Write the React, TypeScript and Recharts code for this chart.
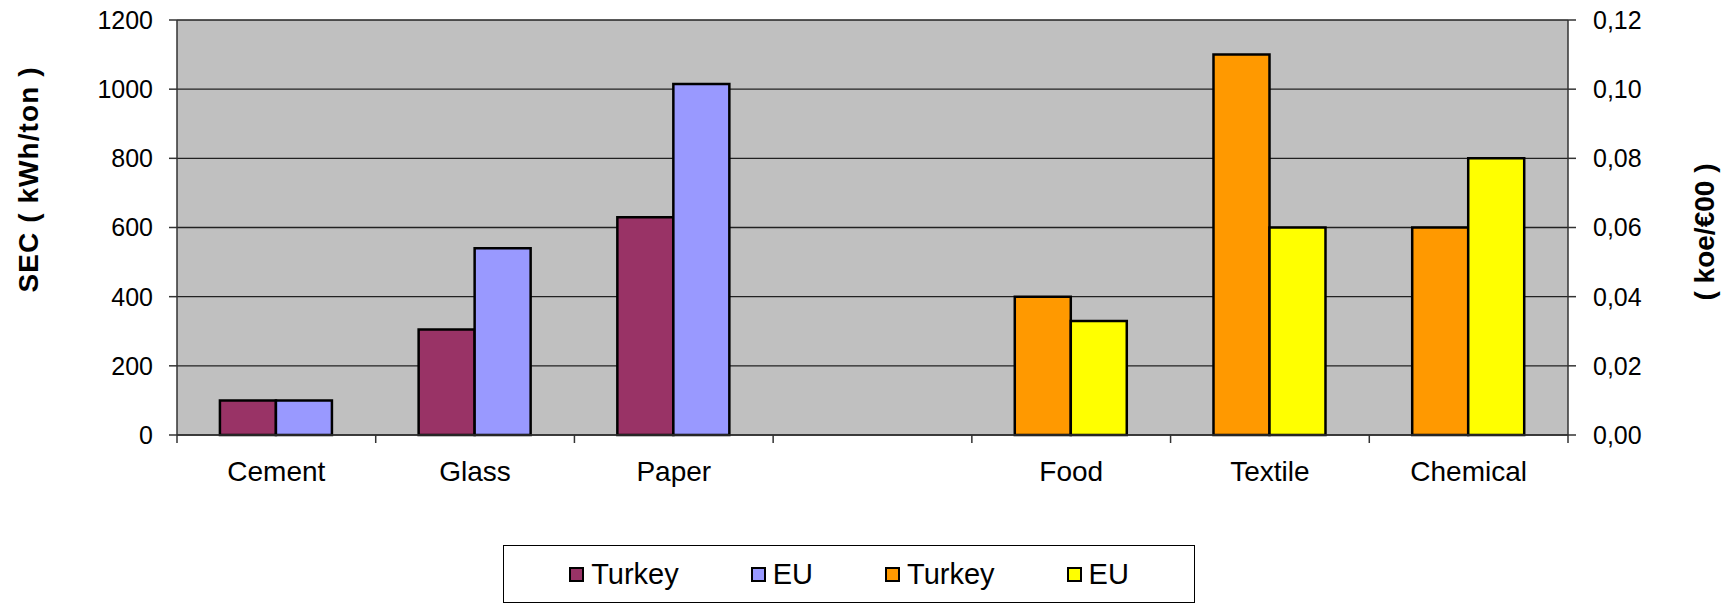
import { ComposedChart, Bar, XAxis, YAxis, CartesianGrid } from "recharts";

const categories = ["Cement", "Glass", "Paper", "", "Food", "Textile", "Chemical"];
// SEC, kWh/ton (left axis)
const secTurkey = [100, 305, 630, null, null, null, null];
const secEU = [100, 540, 1015, null, null, null, null];
// energy intensity, koe/€00 (right axis)
const intTurkey = [null, null, null, null, 0.04, 0.11, 0.06];
const intEU = [null, null, null, null, 0.033, 0.06, 0.08];

const secTicks = [0, 200, 400, 600, 800, 1000, 1200];
const intTicks = [0, 0.02, 0.04, 0.06, 0.08, 0.1, 0.12];

const legendItems = [
  { label: "Turkey", color: "#993366" },
  { label: "EU", color: "#9999ff" },
  { label: "Turkey", color: "#ff9900" },
  { label: "EU", color: "#ffff00" },
];

const data = categories.map((name, i) => ({
  name,
  secTurkey: secTurkey[i],
  secEU: secEU[i],
  intTurkey: intTurkey[i],
  intEU: intEU[i],
}));

const W = 1731;
const H = 604;
const LEFT_W = 177;
const RIGHT_W = 163;
const FONT = "'Liberation Sans', Arial, sans-serif";
const BAND = (W - LEFT_W - RIGHT_W) / categories.length;

function CategoryTick(props: any) {
  const { x, y, payload, index } = props;
  const last = index === categories.length - 1;
  return (
    <g>
      <line x1={x - BAND / 2} x2={x - BAND / 2} y1={y} y2={y + 8} stroke="#333" strokeWidth={1.5} />
      {last && <line x1={x + BAND / 2} x2={x + BAND / 2} y1={y} y2={y + 8} stroke="#333" strokeWidth={1.5} />}
      <text x={x} y={y + 46} textAnchor="middle" fontSize={28} fontFamily={FONT} fill="#000">
        {payload.value}
      </text>
    </g>
  );
}

export default function App() {
  return (
    <div style={{ position: "absolute", left: 0, top: 0, width: W, height: H, background: "#fff" }}>
      <ComposedChart
        width={W}
        height={H}
        data={data}
        margin={{ top: 20, right: 0, bottom: 0, left: 0 }}
        barCategoryGap="21.6%"
        barGap={0}
      >
        <CartesianGrid
          yAxisId="left"
          xAxisId="main"
          vertical={false}
          fill="#c0c0c0"
          fillOpacity={1}
          stroke="#222"
          strokeWidth={1.3}
        />
        <XAxis
          xAxisId="main"
          dataKey="name"
          height={169}
          interval={0}
          tickSize={0}
          tickMargin={0}
          tickLine={false}
          axisLine={{ stroke: "#333", strokeWidth: 1.5 }}
          tick={<CategoryTick />}
        />
        {/* second category axis so the right-axis pair sits centred in its slot */}
        <XAxis xAxisId="alt" dataKey="name" orientation="top" height={0} hide />
        <YAxis
          yAxisId="left"
          width={LEFT_W}
          domain={[0, 1200]}
          ticks={secTicks}
          interval={0}
          tickSize={8}
          tickMargin={16}
          axisLine={{ stroke: "#333", strokeWidth: 1.5 }}
          tickLine={{ stroke: "#333", strokeWidth: 1.5 }}
          tick={{ fill: "#000", fontSize: 25, fontFamily: FONT }}
        />
        <YAxis
          yAxisId="right"
          orientation="right"
          width={RIGHT_W}
          domain={[0, 0.12]}
          ticks={intTicks}
          interval={0}
          tickSize={8}
          tickMargin={17}
          axisLine={{ stroke: "#333", strokeWidth: 1.5 }}
          tickLine={{ stroke: "#333", strokeWidth: 1.5 }}
          tick={{ fill: "#000", fontSize: 25, fontFamily: FONT, textAnchor: "start" }}
          tickFormatter={(v: number) => v.toFixed(2).replace(".", ",")}
        />
        <Bar xAxisId="main" yAxisId="left" dataKey="secTurkey" name="Turkey" fill="#993366" stroke="#000" strokeWidth={2.5} isAnimationActive={false} />
        <Bar xAxisId="main" yAxisId="left" dataKey="secEU" name="EU" fill="#9999ff" stroke="#000" strokeWidth={2.5} isAnimationActive={false} />
        <Bar xAxisId="alt" yAxisId="right" dataKey="intTurkey" name="Turkey" fill="#ff9900" stroke="#000" strokeWidth={2.5} isAnimationActive={false} />
        <Bar xAxisId="alt" yAxisId="right" dataKey="intEU" name="EU" fill="#ffff00" stroke="#000" strokeWidth={2.5} isAnimationActive={false} />
        <text
          x={28}
          y={180}
          transform="rotate(-90 28 180)"
          textAnchor="middle"
          dominantBaseline="central"
          fontSize={28}
          fontWeight="bold"
          fontFamily={FONT}
          fill="#000"
          textLength={225}
          lengthAdjust="spacing"
        >
          SEC ( kWh/ton )
        </text>
        <text
          x={1704}
          y={232}
          transform="rotate(-90 1704 232)"
          textAnchor="middle"
          dominantBaseline="central"
          fontSize={28}
          fontWeight="bold"
          fontFamily={FONT}
          fill="#000"
        >
          ( koe/€00 )
        </text>
      </ComposedChart>

      {/* legend box */}
      <div
        style={{
          position: "absolute",
          left: 503,
          top: 545,
          width: 692,
          height: 58,
          boxSizing: "border-box",
          border: "1px solid #000",
          display: "flex",
          alignItems: "center",
          justifyContent: "center",
          gap: 72,
          fontFamily: FONT,
          fontSize: 29,
          color: "#000",
        }}
      >
        {legendItems.map((it, i) => (
          <div key={i} style={{ display: "flex", alignItems: "center" }}>
            <span
              style={{
                display: "inline-block",
                width: 15,
                height: 15,
                boxSizing: "border-box",
                border: "2px solid #000",
                background: it.color,
                marginRight: 7,
              }}
            />
            <span>{it.label}</span>
          </div>
        ))}
      </div>
    </div>
  );
}
